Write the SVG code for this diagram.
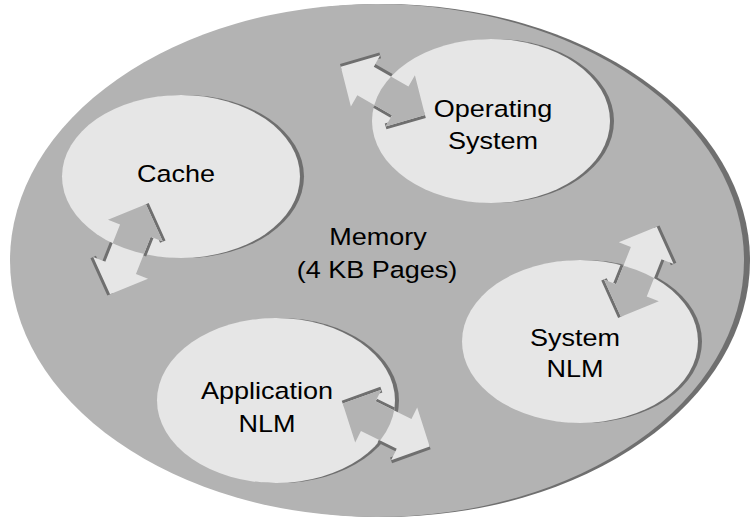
<svg xmlns="http://www.w3.org/2000/svg" xmlns:xlink="http://www.w3.org/1999/xlink" width="751" height="519" viewBox="0 0 751 519">
  <style>
    .shadow { fill: #6f6f6f; }
    .mem { fill: #b3b3b3; }
    .blob { fill: #e6e6e6; }
    .lbl { font-family: "Liberation Sans", Arial, Helvetica, sans-serif; font-size: 23.5px; fill: #000; text-anchor: middle; }
    .alight { fill: #e6e6e6; }
    .agrey { fill: #b3b3b3; }
    .aedge { fill: none; stroke: #6f6f6f; stroke-width: 6; stroke-linecap: butt; }
  </style>
  <defs>
    <path id="arrowBody" d="M0,-48.5 L29.5,-20 L16.5,-20 L16.5,20 L29.5,20 L0,48.5 L-29.5,20 L-16.5,20 L-16.5,-20 L-29.5,-20 Z"/>
    <path id="arrowEdge" d="M0,-48.5 L29.5,-20 M16.5,-20 L16.5,0 M-16.5,0 L-16.5,20 M-29.5,20 L0,48.5"/>
    <clipPath id="clipCache" clipPathUnits="userSpaceOnUse"><ellipse cx="181" cy="176.5" rx="119" ry="81.5"/></clipPath>
    <clipPath id="clipOS" clipPathUnits="userSpaceOnUse"><ellipse cx="491" cy="121" rx="119" ry="82"/></clipPath>
    <clipPath id="clipSys" clipPathUnits="userSpaceOnUse"><ellipse cx="580" cy="341.5" rx="118" ry="81.5"/></clipPath>
    <clipPath id="clipApp" clipPathUnits="userSpaceOnUse"><ellipse cx="276" cy="400.5" rx="119" ry="82.5"/></clipPath>
  </defs>

  <g id="memory">
    <ellipse class="shadow" cx="383" cy="260.5" rx="367" ry="256.5"/>
    <ellipse class="mem" cx="377" cy="260.5" rx="367" ry="256.5"/>
    <text class="lbl" transform="translate(378,244.5) scale(1.15,1)">Memory</text>
    <text class="lbl" transform="translate(377,277.5) scale(1.15,1)">(4 KB Pages)</text>
  </g>

  <g id="cache">
    <ellipse class="shadow" cx="185" cy="176.5" rx="119" ry="81.5"/>
    <ellipse class="blob" cx="181" cy="176.5" rx="119" ry="81.5"/>
    <text class="lbl" transform="translate(176,181.5) scale(1.15,1)">Cache</text>
  </g>

  <g id="operating-system">
    <ellipse class="shadow" cx="495" cy="121" rx="119" ry="82"/>
    <ellipse class="blob" cx="491" cy="121" rx="119" ry="82"/>
    <text class="lbl" transform="translate(493,116.5) scale(1.15,1)">Operating</text>
    <text class="lbl" transform="translate(493,149) scale(1.15,1)">System</text>
  </g>

  <g id="system-nlm">
    <ellipse class="shadow" cx="584" cy="341.5" rx="118" ry="81.5"/>
    <ellipse class="blob" cx="580" cy="341.5" rx="118" ry="81.5"/>
    <text class="lbl" transform="translate(575,345.5) scale(1.15,1)">System</text>
    <text class="lbl" transform="translate(575,377) scale(1.15,1)">NLM</text>
  </g>

  <g id="application-nlm">
    <ellipse class="shadow" cx="280" cy="400.5" rx="119" ry="82.5"/>
    <ellipse class="blob" cx="276" cy="400.5" rx="119" ry="82.5"/>
    <text class="lbl" transform="translate(267,398.5) scale(1.15,1)">Application</text>
    <text class="lbl" transform="translate(267,431.5) scale(1.15,1)">NLM</text>
  </g>

  <g id="connectors">
    <g id="arrow-cache">
      <use xlink:href="#arrowEdge" class="aedge" transform="translate(128,249.3) rotate(21.7)"/>
      <use xlink:href="#arrowBody" class="alight" transform="translate(128,249.3) rotate(21.7)"/>
      <g clip-path="url(#clipCache)"><use xlink:href="#arrowBody" class="agrey" transform="translate(128,249.3) rotate(21.7)"/></g>
    </g>
    <g id="arrow-os">
      <use xlink:href="#arrowEdge" class="aedge" transform="translate(382.9,90.9) rotate(-60.2)"/>
      <use xlink:href="#arrowBody" class="alight" transform="translate(382.9,90.9) rotate(-60.2)"/>
      <g clip-path="url(#clipOS)"><use xlink:href="#arrowBody" class="agrey" transform="translate(382.9,90.9) rotate(-60.2)"/></g>
    </g>
    <g id="arrow-system-nlm">
      <use xlink:href="#arrowEdge" class="aedge" transform="translate(638.8,271.7) rotate(21.7)"/>
      <use xlink:href="#arrowBody" class="alight" transform="translate(638.8,271.7) rotate(21.7)"/>
      <g clip-path="url(#clipSys)"><use xlink:href="#arrowBody" class="agrey" transform="translate(638.8,271.7) rotate(21.7)"/></g>
    </g>
    <g id="arrow-application-nlm">
      <use xlink:href="#arrowEdge" class="aedge" transform="translate(386.2,425) rotate(-63.7)"/>
      <use xlink:href="#arrowBody" class="alight" transform="translate(386.2,425) rotate(-63.7)"/>
      <g clip-path="url(#clipApp)"><use xlink:href="#arrowBody" class="agrey" transform="translate(386.2,425) rotate(-63.7)"/></g>
    </g>
  </g>
</svg>
